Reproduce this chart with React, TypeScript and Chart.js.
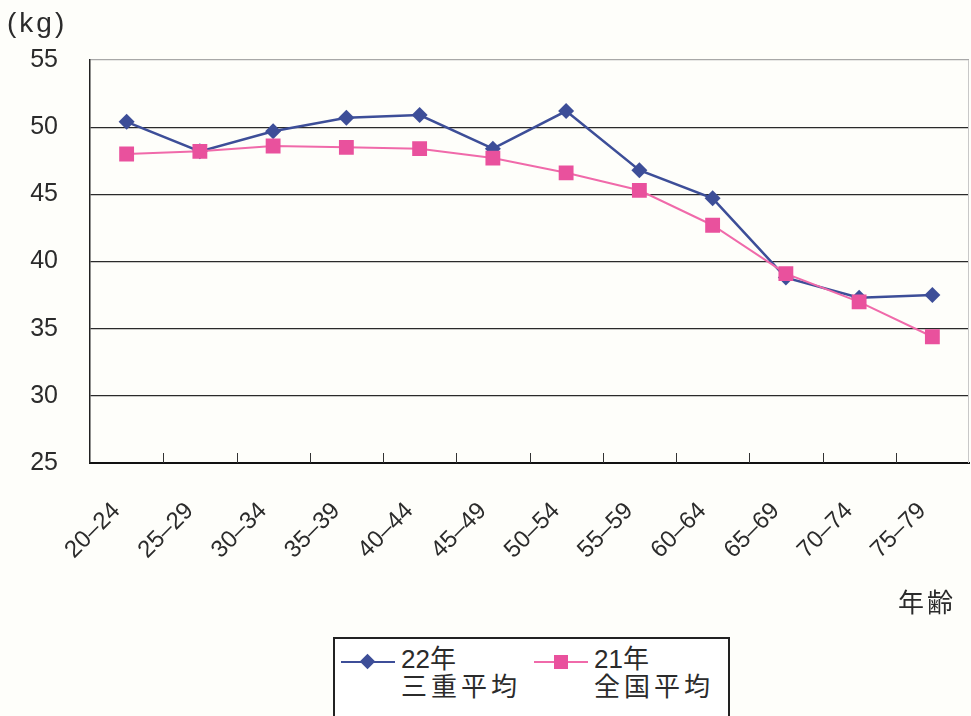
import React, { useEffect, useRef } from 'react';
import { Chart, registerables } from 'chart.js';

Chart.register(...registerables);

const categories = ['20–24', '25–29', '30–34', '35–39', '40–44', '45–49', '50–54', '55–59', '60–64', '65–69', '70–74', '75–79'];
const mieValues = [50.4, 48.2, 49.7, 50.7, 50.9, 48.4, 51.2, 46.8, 44.7, 38.8, 37.3, 37.5];
const nationalValues = [48.0, 48.2, 48.6, 48.5, 48.4, 47.7, 46.6, 45.3, 42.7, 39.1, 37.0, 34.4];
const yMin = 25;
const yMax = 55;
const yStep = 5;
const mieLabel = ['22年', '三重平均'];
const nationalLabel = ['21年', '全国平均'];
const unitLabel = '(kg)';
const xAxisTitle = '年齢';

const BLUE = '#3d4e98';
const PINK_LINE = '#f06aaa';
const PINK_MARK = '#e9519d';
const TEXT = '#2b2b2b';

const innerTicks = {
  id: 'innerTicks',
  beforeDatasetsDraw(chart: any) {
    const { ctx, chartArea } = chart;
    const xs = chart.scales.x;
    ctx.save();
    ctx.strokeStyle = '#333';
    ctx.lineWidth = 1;
    for (let i = 0; i < categories.length - 1; i++) {
      const px = Math.round((xs.getPixelForValue(i) + xs.getPixelForValue(i + 1)) / 2) + 0.5;
      ctx.beginPath();
      ctx.moveTo(px, chartArea.bottom);
      ctx.lineTo(px, chartArea.bottom - 10);
      ctx.stroke();
    }
    ctx.strokeStyle = '#c8c8c8';
    ctx.beginPath();
    ctx.moveTo(chartArea.right - 0.5, chartArea.top);
    ctx.lineTo(chartArea.right - 0.5, chartArea.bottom);
    ctx.stroke();
    ctx.restore();
  },
};

function LegendItem({ color, markColor, diamond, lines, left }: any) {
  return (
    <div style={{ position: 'absolute', left, top: 0 }}>
      <div style={{ position: 'absolute', left: 0, top: 22, width: 54, height: 2, background: color }} />
      <div
        style={{
          position: 'absolute',
          left: diamond ? 21 : 20,
          top: diamond ? 17 : 16,
          width: diamond ? 11 : 14,
          height: diamond ? 11 : 14,
          background: markColor,
          transform: diamond ? 'rotate(45deg)' : 'none',
        }}
      />
      <div
        style={{
          position: 'absolute',
          left: 60,
          top: 6,
          fontFamily: '"Liberation Sans", "Noto Sans CJK JP", sans-serif',
          fontSize: 26,
          lineHeight: '28px',
          color: TEXT,
          whiteSpace: 'nowrap',
        }}
      >
        <div>{lines[0]}</div>
        <div style={{ letterSpacing: 4 }}>{lines[1]}</div>
      </div>
    </div>
  );
}

export default function App() {
  const ref = useRef<HTMLCanvasElement | null>(null);

  useEffect(() => {
    if (!ref.current) return;
    const chart = new Chart(ref.current, {
      type: 'line',
      data: {
        labels: categories,
        datasets: [
          {
            label: mieLabel.join(' '),
            data: mieValues,
            borderColor: BLUE,
            backgroundColor: BLUE,
            pointBackgroundColor: BLUE,
            pointBorderColor: BLUE,
            borderWidth: 2.5,
            pointStyle: 'rectRot',
            pointRadius: 8,
            pointBorderWidth: 0,
            tension: 0,
            order: 1,
          },
          {
            label: nationalLabel.join(' '),
            data: nationalValues,
            borderColor: PINK_LINE,
            backgroundColor: PINK_MARK,
            pointBackgroundColor: PINK_MARK,
            pointBorderColor: PINK_MARK,
            borderWidth: 2,
            pointStyle: 'rect',
            pointRadius: 10.5,
            pointBorderWidth: 0,
            tension: 0,
            order: 0,
          },
        ],
      },
      plugins: [innerTicks],
      options: {
        animation: false,
        responsive: false,
        layout: { autoPadding: false, padding: { top: 60, right: 2, left: 0, bottom: 0 } },
        plugins: {
          legend: { display: false },
          tooltip: { enabled: false },
          title: { display: false },
        },
        scales: {
          x: {
            type: 'category',
            offset: true,
            grid: { display: false, drawTicks: false },
            border: { display: true, color: '#111', width: 2 },
            ticks: {
              autoSkip: false,
              maxRotation: 45,
              minRotation: 45,
              padding: 34,
              labelOffset: -10,
              color: TEXT,
              font: { family: '"Liberation Sans", Arial, sans-serif', size: 24 },
            },
            afterFit: (s: any) => {
              s.height = 253;
              s.paddingLeft = 0;
              s.paddingRight = 0;
            },
          },
          y: {
            min: yMin,
            max: yMax,
            ticks: {
              stepSize: yStep,
              padding: 32,
              color: TEXT,
              font: { family: '"Liberation Sans", Arial, sans-serif', size: 25 },
            },
            grid: {
              drawTicks: false,
              color: (c: any) => (c.tick && c.tick.value === yMax ? '#a8a8a8' : '#2a2a2a'),
              lineWidth: 1.2,
            },
            border: { display: true, color: '#222', width: 1.5 },
            afterFit: (s: any) => {
              s.width = 90;
            },
          },
        },
      },
    });
    return () => chart.destroy();
  }, []);

  return (
    <div style={{ position: 'fixed', left: 0, top: 0, width: 971, height: 716, background: '#fefefa', overflow: 'hidden' }}>
      <canvas ref={ref} width={971} height={716} style={{ position: 'absolute', left: 0, top: 0, width: 971, height: 716 }} />
      <div
        style={{
          position: 'absolute',
          left: 7,
          top: 7,
          fontFamily: '"Liberation Sans", Arial, sans-serif',
          fontSize: 28,
          letterSpacing: 3,
          color: TEXT,
        }}
      >
        {unitLabel}
      </div>
      <div
        style={{
          position: 'absolute',
          left: 898,
          top: 586,
          fontFamily: '"Noto Sans CJK JP", sans-serif',
          fontSize: 26,
          lineHeight: '30px',
          letterSpacing: 3,
          color: TEXT,
        }}
      >
        {xAxisTitle}
      </div>
      <div
        style={{
          position: 'absolute',
          left: 333,
          top: 637,
          width: 393,
          height: 100,
          border: '2px solid #222',
          background: '#ffffff',
        }}
      >
        <LegendItem color={BLUE} markColor={BLUE} diamond lines={mieLabel} left={6} />
        <LegendItem color={PINK_LINE} markColor={PINK_MARK} diamond={false} lines={nationalLabel} left={199} />
      </div>
    </div>
  );
}
